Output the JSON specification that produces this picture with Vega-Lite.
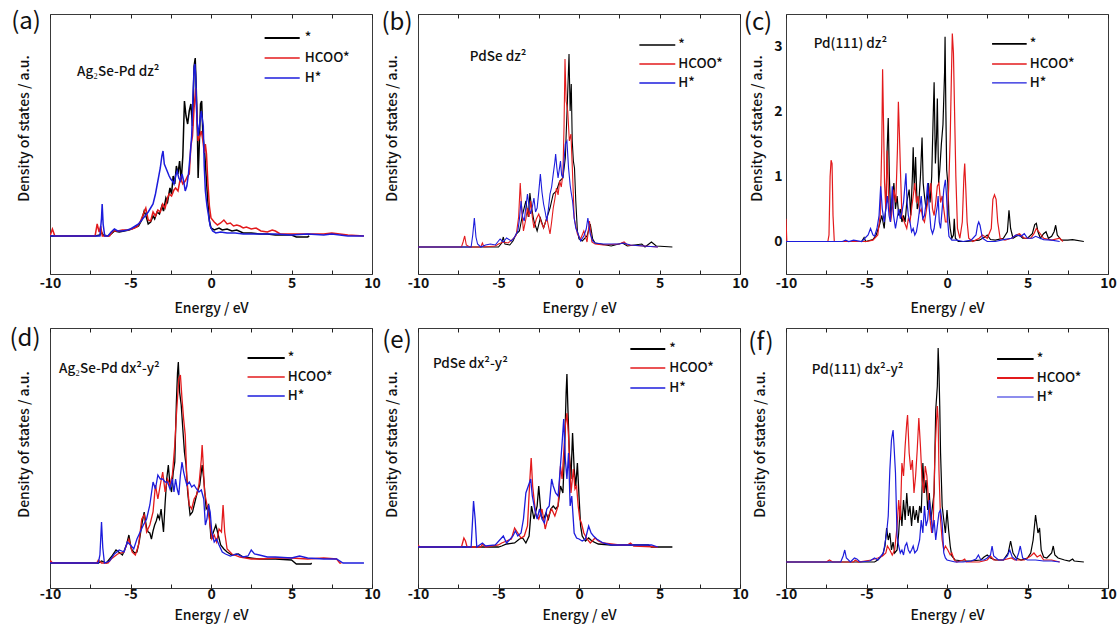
{
  "$schema": "https://vega.github.io/schema/vega-lite/v6.json",
  "padding": {"left": 8, "top": 9, "right": 0, "bottom": 4},
  "background": "white",
  "datasets": {
    "a": [
      {"s":"*","e":-10,"v":0},{"s":"*","e":-7.2,"v":0},{"s":"*","e":-6.9,"v":1},{"s":"*","e":-6.8,"v":4},{"s":"*","e":-6.7,"v":1},{"s":"*","e":-6.4,"v":0},{"s":"*","e":-6.2,"v":2},{"s":"*","e":-6.0,"v":5},{"s":"*","e":-5.7,"v":4},{"s":"*","e":-5.4,"v":5},{"s":"*","e":-5.1,"v":6},{"s":"*","e":-4.8,"v":8},{"s":"*","e":-4.5,"v":10},{"s":"*","e":-4.3,"v":16},{"s":"*","e":-4.15,"v":25},{"s":"*","e":-4.0,"v":18},{"s":"*","e":-3.9,"v":12},{"s":"*","e":-3.75,"v":14},{"s":"*","e":-3.6,"v":20},{"s":"*","e":-3.5,"v":17},{"s":"*","e":-3.35,"v":24},{"s":"*","e":-3.2,"v":22},{"s":"*","e":-3.05,"v":30},{"s":"*","e":-2.95,"v":25},{"s":"*","e":-2.8,"v":38},{"s":"*","e":-2.7,"v":34},{"s":"*","e":-2.55,"v":48},{"s":"*","e":-2.45,"v":42},{"s":"*","e":-2.35,"v":60},{"s":"*","e":-2.25,"v":52},{"s":"*","e":-2.15,"v":70},{"s":"*","e":-2.05,"v":62},{"s":"*","e":-1.95,"v":75},{"s":"*","e":-1.85,"v":55},{"s":"*","e":-1.75,"v":80},{"s":"*","e":-1.65,"v":135},{"s":"*","e":-1.55,"v":120},{"s":"*","e":-1.45,"v":112},{"s":"*","e":-1.35,"v":125},{"s":"*","e":-1.25,"v":132},{"s":"*","e":-1.15,"v":110},{"s":"*","e":-1.05,"v":170},{"s":"*","e":-0.98,"v":178},{"s":"*","e":-0.92,"v":150},{"s":"*","e":-0.85,"v":110},{"s":"*","e":-0.8,"v":58},{"s":"*","e":-0.72,"v":95},{"s":"*","e":-0.65,"v":132},{"s":"*","e":-0.58,"v":135},{"s":"*","e":-0.5,"v":100},{"s":"*","e":-0.4,"v":85},{"s":"*","e":-0.3,"v":60},{"s":"*","e":-0.2,"v":35},{"s":"*","e":-0.1,"v":15},{"s":"*","e":0,"v":8},{"s":"*","e":0.2,"v":6},{"s":"*","e":0.5,"v":8},{"s":"*","e":0.7,"v":6},{"s":"*","e":1.0,"v":7},{"s":"*","e":1.3,"v":5},{"s":"*","e":1.6,"v":6},{"s":"*","e":2.0,"v":3},{"s":"*","e":2.5,"v":3},{"s":"*","e":3,"v":2},{"s":"*","e":3.5,"v":2},{"s":"*","e":4,"v":1},{"s":"*","e":4.5,"v":1},{"s":"*","e":5,"v":1},{"s":"*","e":5.3,"v":-1},{"s":"*","e":6.0,"v":-1},{"s":"*","e":6.1,"v":0},
      {"s":"HCOO*","e":-10,"v":0},{"s":"HCOO*","e":-9.85,"v":7},{"s":"HCOO*","e":-9.7,"v":0},{"s":"HCOO*","e":-7.2,"v":0},{"s":"HCOO*","e":-7.07,"v":12},{"s":"HCOO*","e":-6.95,"v":4},{"s":"HCOO*","e":-6.85,"v":10},{"s":"HCOO*","e":-6.75,"v":0},{"s":"HCOO*","e":-6.3,"v":0},{"s":"HCOO*","e":-6.1,"v":5},{"s":"HCOO*","e":-5.8,"v":5},{"s":"HCOO*","e":-5.5,"v":6},{"s":"HCOO*","e":-5.2,"v":6},{"s":"HCOO*","e":-4.9,"v":7},{"s":"HCOO*","e":-4.6,"v":9},{"s":"HCOO*","e":-4.4,"v":14},{"s":"HCOO*","e":-4.2,"v":22},{"s":"HCOO*","e":-4.05,"v":28},{"s":"HCOO*","e":-3.9,"v":16},{"s":"HCOO*","e":-3.75,"v":15},{"s":"HCOO*","e":-3.6,"v":24},{"s":"HCOO*","e":-3.45,"v":20},{"s":"HCOO*","e":-3.3,"v":26},{"s":"HCOO*","e":-3.15,"v":24},{"s":"HCOO*","e":-3.0,"v":32},{"s":"HCOO*","e":-2.85,"v":28},{"s":"HCOO*","e":-2.7,"v":38},{"s":"HCOO*","e":-2.6,"v":42},{"s":"HCOO*","e":-2.45,"v":40},{"s":"HCOO*","e":-2.3,"v":46},{"s":"HCOO*","e":-2.2,"v":48},{"s":"HCOO*","e":-2.05,"v":45},{"s":"HCOO*","e":-1.9,"v":58},{"s":"HCOO*","e":-1.75,"v":52},{"s":"HCOO*","e":-1.6,"v":55},{"s":"HCOO*","e":-1.45,"v":60},{"s":"HCOO*","e":-1.35,"v":62},{"s":"HCOO*","e":-1.25,"v":90},{"s":"HCOO*","e":-1.15,"v":100},{"s":"HCOO*","e":-1.05,"v":128},{"s":"HCOO*","e":-0.95,"v":148},{"s":"HCOO*","e":-0.88,"v":120},{"s":"HCOO*","e":-0.8,"v":95},{"s":"HCOO*","e":-0.7,"v":100},{"s":"HCOO*","e":-0.6,"v":105},{"s":"HCOO*","e":-0.5,"v":95},{"s":"HCOO*","e":-0.42,"v":83},{"s":"HCOO*","e":-0.35,"v":92},{"s":"HCOO*","e":-0.28,"v":82},{"s":"HCOO*","e":-0.2,"v":55},{"s":"HCOO*","e":-0.1,"v":30},{"s":"HCOO*","e":0,"v":18},{"s":"HCOO*","e":0.2,"v":14},{"s":"HCOO*","e":0.4,"v":11},{"s":"HCOO*","e":0.6,"v":13},{"s":"HCOO*","e":0.8,"v":16},{"s":"HCOO*","e":1.0,"v":12},{"s":"HCOO*","e":1.2,"v":13},{"s":"HCOO*","e":1.4,"v":10},{"s":"HCOO*","e":1.6,"v":11},{"s":"HCOO*","e":1.8,"v":10},{"s":"HCOO*","e":2.0,"v":8},{"s":"HCOO*","e":2.2,"v":9},{"s":"HCOO*","e":2.5,"v":7},{"s":"HCOO*","e":2.8,"v":8},{"s":"HCOO*","e":3.1,"v":5},{"s":"HCOO*","e":3.5,"v":4},{"s":"HCOO*","e":3.8,"v":6},{"s":"HCOO*","e":4.0,"v":5},{"s":"HCOO*","e":4.3,"v":2},{"s":"HCOO*","e":5,"v":2},{"s":"HCOO*","e":6,"v":2},{"s":"HCOO*","e":7,"v":2},{"s":"HCOO*","e":7.5,"v":3},{"s":"HCOO*","e":8,"v":2},{"s":"HCOO*","e":8.5,"v":1},{"s":"HCOO*","e":9.5,"v":0},
      {"s":"H*","e":-10,"v":0},{"s":"H*","e":-6.9,"v":0},{"s":"H*","e":-6.8,"v":18},{"s":"H*","e":-6.76,"v":32},{"s":"H*","e":-6.7,"v":12},{"s":"H*","e":-6.6,"v":0},{"s":"H*","e":-6.4,"v":0},{"s":"H*","e":-6.2,"v":4},{"s":"H*","e":-6.0,"v":7},{"s":"H*","e":-5.8,"v":5},{"s":"H*","e":-5.5,"v":5},{"s":"H*","e":-5.2,"v":6},{"s":"H*","e":-5.0,"v":7},{"s":"H*","e":-4.7,"v":10},{"s":"H*","e":-4.5,"v":12},{"s":"H*","e":-4.3,"v":16},{"s":"H*","e":-4.1,"v":20},{"s":"H*","e":-3.9,"v":24},{"s":"H*","e":-3.75,"v":28},{"s":"H*","e":-3.6,"v":32},{"s":"H*","e":-3.45,"v":42},{"s":"H*","e":-3.3,"v":55},{"s":"H*","e":-3.15,"v":68},{"s":"H*","e":-3.05,"v":80},{"s":"H*","e":-2.98,"v":85},{"s":"H*","e":-2.9,"v":72},{"s":"H*","e":-2.8,"v":68},{"s":"H*","e":-2.7,"v":64},{"s":"H*","e":-2.6,"v":60},{"s":"H*","e":-2.5,"v":57},{"s":"H*","e":-2.4,"v":55},{"s":"H*","e":-2.3,"v":52},{"s":"H*","e":-2.2,"v":60},{"s":"H*","e":-2.1,"v":65},{"s":"H*","e":-2.0,"v":58},{"s":"H*","e":-1.9,"v":55},{"s":"H*","e":-1.8,"v":62},{"s":"H*","e":-1.7,"v":55},{"s":"H*","e":-1.6,"v":45},{"s":"H*","e":-1.5,"v":50},{"s":"H*","e":-1.4,"v":62},{"s":"H*","e":-1.3,"v":80},{"s":"H*","e":-1.2,"v":100},{"s":"H*","e":-1.12,"v":140},{"s":"H*","e":-1.05,"v":168},{"s":"H*","e":-1.0,"v":172},{"s":"H*","e":-0.95,"v":160},{"s":"H*","e":-0.88,"v":120},{"s":"H*","e":-0.8,"v":100},{"s":"H*","e":-0.72,"v":110},{"s":"H*","e":-0.65,"v":120},{"s":"H*","e":-0.6,"v":125},{"s":"H*","e":-0.55,"v":118},{"s":"H*","e":-0.48,"v":110},{"s":"H*","e":-0.42,"v":70},{"s":"H*","e":-0.35,"v":45},{"s":"H*","e":-0.25,"v":30},{"s":"H*","e":-0.15,"v":20},{"s":"H*","e":-0.05,"v":10},{"s":"H*","e":0.1,"v":5},{"s":"H*","e":0.3,"v":3},{"s":"H*","e":0.6,"v":4},{"s":"H*","e":1,"v":3},{"s":"H*","e":1.5,"v":3},{"s":"H*","e":2,"v":2},{"s":"H*","e":3,"v":2},{"s":"H*","e":4,"v":2},{"s":"H*","e":5,"v":1},{"s":"H*","e":6,"v":2},{"s":"H*","e":7,"v":1},{"s":"H*","e":7.5,"v":2},{"s":"H*","e":8,"v":1},{"s":"H*","e":8.5,"v":0},{"s":"H*","e":9.5,"v":0}
    ],
    "b": [
      {"s":"*","e":-10,"v":0},{"s":"*","e":-5,"v":0},{"s":"*","e":-4.8,"v":4},{"s":"*","e":-4.7,"v":10},{"s":"*","e":-4.6,"v":3},{"s":"*","e":-4.3,"v":2},{"s":"*","e":-4.1,"v":6},{"s":"*","e":-3.9,"v":13},{"s":"*","e":-3.7,"v":16},{"s":"*","e":-3.5,"v":33},{"s":"*","e":-3.3,"v":46},{"s":"*","e":-3.15,"v":30},{"s":"*","e":-3.05,"v":54},{"s":"*","e":-2.95,"v":40},{"s":"*","e":-2.8,"v":26},{"s":"*","e":-2.6,"v":16},{"s":"*","e":-2.4,"v":29},{"s":"*","e":-2.2,"v":19},{"s":"*","e":-2.0,"v":29},{"s":"*","e":-1.8,"v":39},{"s":"*","e":-1.6,"v":53},{"s":"*","e":-1.4,"v":56},{"s":"*","e":-1.2,"v":66},{"s":"*","e":-1.0,"v":69},{"s":"*","e":-0.85,"v":89},{"s":"*","e":-0.72,"v":146},{"s":"*","e":-0.62,"v":193},{"s":"*","e":-0.55,"v":136},{"s":"*","e":-0.48,"v":163},{"s":"*","e":-0.42,"v":106},{"s":"*","e":-0.35,"v":86},{"s":"*","e":-0.28,"v":79},{"s":"*","e":-0.2,"v":46},{"s":"*","e":-0.1,"v":16},{"s":"*","e":0,"v":8},{"s":"*","e":0.2,"v":6},{"s":"*","e":0.5,"v":11},{"s":"*","e":0.7,"v":23},{"s":"*","e":0.85,"v":8},{"s":"*","e":1,"v":4},{"s":"*","e":2,"v":1},{"s":"*","e":2.7,"v":4},{"s":"*","e":3,"v":1},{"s":"*","e":3.9,"v":3},{"s":"*","e":4.1,"v":0},{"s":"*","e":4.5,"v":5},{"s":"*","e":4.8,"v":1},{"s":"*","e":5.8,"v":0},
      {"s":"HCOO*","e":-10,"v":0},{"s":"HCOO*","e":-7.3,"v":0},{"s":"HCOO*","e":-7.2,"v":5},{"s":"HCOO*","e":-7.1,"v":11},{"s":"HCOO*","e":-7.0,"v":2},{"s":"HCOO*","e":-6.8,"v":0},{"s":"HCOO*","e":-6.1,"v":0},{"s":"HCOO*","e":-6.0,"v":4},{"s":"HCOO*","e":-5.9,"v":0},{"s":"HCOO*","e":-5.2,"v":1},{"s":"HCOO*","e":-5.0,"v":3},{"s":"HCOO*","e":-4.7,"v":5},{"s":"HCOO*","e":-4.4,"v":4},{"s":"HCOO*","e":-4.1,"v":8},{"s":"HCOO*","e":-3.9,"v":12},{"s":"HCOO*","e":-3.75,"v":30},{"s":"HCOO*","e":-3.65,"v":64},{"s":"HCOO*","e":-3.55,"v":35},{"s":"HCOO*","e":-3.45,"v":16},{"s":"HCOO*","e":-3.3,"v":28},{"s":"HCOO*","e":-3.2,"v":39},{"s":"HCOO*","e":-3.1,"v":30},{"s":"HCOO*","e":-3.0,"v":46},{"s":"HCOO*","e":-2.9,"v":30},{"s":"HCOO*","e":-2.8,"v":19},{"s":"HCOO*","e":-2.65,"v":28},{"s":"HCOO*","e":-2.5,"v":33},{"s":"HCOO*","e":-2.35,"v":25},{"s":"HCOO*","e":-2.2,"v":19},{"s":"HCOO*","e":-2.1,"v":24},{"s":"HCOO*","e":-2.0,"v":29},{"s":"HCOO*","e":-1.8,"v":13},{"s":"HCOO*","e":-1.7,"v":25},{"s":"HCOO*","e":-1.6,"v":39},{"s":"HCOO*","e":-1.5,"v":48},{"s":"HCOO*","e":-1.4,"v":59},{"s":"HCOO*","e":-1.3,"v":52},{"s":"HCOO*","e":-1.2,"v":66},{"s":"HCOO*","e":-1.1,"v":60},{"s":"HCOO*","e":-1.0,"v":73},{"s":"HCOO*","e":-0.93,"v":120},{"s":"HCOO*","e":-0.87,"v":188},{"s":"HCOO*","e":-0.8,"v":146},{"s":"HCOO*","e":-0.7,"v":136},{"s":"HCOO*","e":-0.6,"v":106},{"s":"HCOO*","e":-0.5,"v":113},{"s":"HCOO*","e":-0.4,"v":73},{"s":"HCOO*","e":-0.3,"v":29},{"s":"HCOO*","e":-0.1,"v":13},{"s":"HCOO*","e":0.1,"v":8},{"s":"HCOO*","e":0.3,"v":16},{"s":"HCOO*","e":0.5,"v":5},{"s":"HCOO*","e":0.65,"v":26},{"s":"HCOO*","e":0.8,"v":5},{"s":"HCOO*","e":1,"v":3},{"s":"HCOO*","e":1.5,"v":2},{"s":"HCOO*","e":2.5,"v":3},{"s":"HCOO*","e":2.8,"v":5},{"s":"HCOO*","e":3,"v":2},{"s":"HCOO*","e":4,"v":1},{"s":"HCOO*","e":4.9,"v":0},
      {"s":"H*","e":-10,"v":0},{"s":"H*","e":-6.7,"v":0},{"s":"H*","e":-6.6,"v":12},{"s":"H*","e":-6.5,"v":29},{"s":"H*","e":-6.4,"v":10},{"s":"H*","e":-6.3,"v":3},{"s":"H*","e":-6.1,"v":0},{"s":"H*","e":-5.8,"v":2},{"s":"H*","e":-5.5,"v":3},{"s":"H*","e":-5.2,"v":2},{"s":"H*","e":-4.9,"v":8},{"s":"H*","e":-4.7,"v":5},{"s":"H*","e":-4.5,"v":9},{"s":"H*","e":-4.2,"v":6},{"s":"H*","e":-4.0,"v":10},{"s":"H*","e":-3.8,"v":16},{"s":"H*","e":-3.7,"v":28},{"s":"H*","e":-3.6,"v":46},{"s":"H*","e":-3.5,"v":30},{"s":"H*","e":-3.4,"v":26},{"s":"H*","e":-3.3,"v":40},{"s":"H*","e":-3.2,"v":53},{"s":"H*","e":-3.1,"v":40},{"s":"H*","e":-3.0,"v":33},{"s":"H*","e":-2.9,"v":40},{"s":"H*","e":-2.8,"v":49},{"s":"H*","e":-2.7,"v":35},{"s":"H*","e":-2.6,"v":39},{"s":"H*","e":-2.5,"v":55},{"s":"H*","e":-2.4,"v":73},{"s":"H*","e":-2.3,"v":55},{"s":"H*","e":-2.2,"v":43},{"s":"H*","e":-2.1,"v":35},{"s":"H*","e":-2.0,"v":26},{"s":"H*","e":-1.9,"v":38},{"s":"H*","e":-1.8,"v":53},{"s":"H*","e":-1.7,"v":60},{"s":"H*","e":-1.6,"v":73},{"s":"H*","e":-1.5,"v":85},{"s":"H*","e":-1.45,"v":93},{"s":"H*","e":-1.38,"v":80},{"s":"H*","e":-1.3,"v":69},{"s":"H*","e":-1.22,"v":78},{"s":"H*","e":-1.15,"v":86},{"s":"H*","e":-1.08,"v":72},{"s":"H*","e":-1.0,"v":69},{"s":"H*","e":-0.92,"v":88},{"s":"H*","e":-0.85,"v":103},{"s":"H*","e":-0.75,"v":106},{"s":"H*","e":-0.65,"v":79},{"s":"H*","e":-0.55,"v":62},{"s":"H*","e":-0.5,"v":56},{"s":"H*","e":-0.4,"v":46},{"s":"H*","e":-0.3,"v":29},{"s":"H*","e":-0.2,"v":19},{"s":"H*","e":-0.05,"v":13},{"s":"H*","e":0.1,"v":6},{"s":"H*","e":0.3,"v":11},{"s":"H*","e":0.45,"v":18},{"s":"H*","e":0.55,"v":29},{"s":"H*","e":0.7,"v":13},{"s":"H*","e":0.85,"v":6},{"s":"H*","e":1.0,"v":4},{"s":"H*","e":1.5,"v":3},{"s":"H*","e":2.5,"v":3},{"s":"H*","e":2.75,"v":4},{"s":"H*","e":3.2,"v":2},{"s":"H*","e":4,"v":1},{"s":"H*","e":4.9,"v":0}
    ],
    "c": [
      {"s":"*","e":-10,"v":0},{"s":"*","e":-5.3,"v":0},{"s":"*","e":-5.15,"v":0.06},{"s":"*","e":-5.05,"v":0},{"s":"*","e":-4.6,"v":0.03},{"s":"*","e":-4.4,"v":0.1},{"s":"*","e":-4.2,"v":0.25},{"s":"*","e":-4.05,"v":0.4},{"s":"*","e":-3.9,"v":0.2},{"s":"*","e":-3.78,"v":0.6},{"s":"*","e":-3.72,"v":1.4},{"s":"*","e":-3.65,"v":1.9},{"s":"*","e":-3.58,"v":1.0},{"s":"*","e":-3.5,"v":0.4},{"s":"*","e":-3.4,"v":0.6},{"s":"*","e":-3.3,"v":0.9},{"s":"*","e":-3.2,"v":0.5},{"s":"*","e":-3.1,"v":0.7},{"s":"*","e":-3.0,"v":0.4},{"s":"*","e":-2.9,"v":0.5},{"s":"*","e":-2.8,"v":0.3},{"s":"*","e":-2.7,"v":0.4},{"s":"*","e":-2.6,"v":0.3},{"s":"*","e":-2.5,"v":0.6},{"s":"*","e":-2.35,"v":0.8},{"s":"*","e":-2.25,"v":0.4},{"s":"*","e":-2.15,"v":1.0},{"s":"*","e":-2.1,"v":1.45},{"s":"*","e":-2.03,"v":0.8},{"s":"*","e":-1.95,"v":1.3},{"s":"*","e":-1.85,"v":0.5},{"s":"*","e":-1.75,"v":0.6},{"s":"*","e":-1.65,"v":1.0},{"s":"*","e":-1.55,"v":1.6},{"s":"*","e":-1.48,"v":0.9},{"s":"*","e":-1.4,"v":0.7},{"s":"*","e":-1.3,"v":0.5},{"s":"*","e":-1.2,"v":0.7},{"s":"*","e":-1.15,"v":0.9},{"s":"*","e":-1.05,"v":0.6},{"s":"*","e":-0.95,"v":1.0},{"s":"*","e":-0.87,"v":1.8},{"s":"*","e":-0.8,"v":2.45},{"s":"*","e":-0.72,"v":1.2},{"s":"*","e":-0.65,"v":1.6},{"s":"*","e":-0.6,"v":2.2},{"s":"*","e":-0.52,"v":0.9},{"s":"*","e":-0.45,"v":1.1},{"s":"*","e":-0.35,"v":1.5},{"s":"*","e":-0.25,"v":1.8},{"s":"*","e":-0.2,"v":2.2},{"s":"*","e":-0.15,"v":2.6},{"s":"*","e":-0.12,"v":3.15},{"s":"*","e":-0.07,"v":2.0},{"s":"*","e":-0.02,"v":1.1},{"s":"*","e":0.05,"v":0.9},{"s":"*","e":0.12,"v":0.4},{"s":"*","e":0.2,"v":0.2},{"s":"*","e":0.3,"v":0.05},{"s":"*","e":0.4,"v":0.1},{"s":"*","e":0.45,"v":0.35},{"s":"*","e":0.52,"v":0.05},{"s":"*","e":0.7,"v":0},{"s":"*","e":1.2,"v":0},{"s":"*","e":2.0,"v":0.02},{"s":"*","e":2.3,"v":0.06},{"s":"*","e":2.5,"v":0.1},{"s":"*","e":2.7,"v":0.03},{"s":"*","e":3.0,"v":0.02},{"s":"*","e":3.5,"v":0.05},{"s":"*","e":3.75,"v":0.15},{"s":"*","e":3.85,"v":0.48},{"s":"*","e":3.95,"v":0.2},{"s":"*","e":4.1,"v":0.05},{"s":"*","e":4.3,"v":0.08},{"s":"*","e":4.5,"v":0.1},{"s":"*","e":4.7,"v":0.05},{"s":"*","e":5.0,"v":0.05},{"s":"*","e":5.3,"v":0.12},{"s":"*","e":5.45,"v":0.26},{"s":"*","e":5.55,"v":0.28},{"s":"*","e":5.65,"v":0.15},{"s":"*","e":5.8,"v":0.05},{"s":"*","e":6.0,"v":0.12},{"s":"*","e":6.15,"v":0.15},{"s":"*","e":6.3,"v":0.05},{"s":"*","e":6.5,"v":0.08},{"s":"*","e":6.65,"v":0.15},{"s":"*","e":6.75,"v":0.25},{"s":"*","e":6.85,"v":0.1},{"s":"*","e":7.1,"v":0.02},{"s":"*","e":7.5,"v":0.02},{"s":"*","e":7.8,"v":0.03},{"s":"*","e":8.5,"v":0},
      {"s":"HCOO*","e":-10,"v":0.35},{"s":"HCOO*","e":-9.95,"v":0},{"s":"HCOO*","e":-7.4,"v":0},{"s":"HCOO*","e":-7.33,"v":0.1},{"s":"HCOO*","e":-7.26,"v":1.0},{"s":"HCOO*","e":-7.2,"v":1.25},{"s":"HCOO*","e":-7.14,"v":1.2},{"s":"HCOO*","e":-7.08,"v":0.4},{"s":"HCOO*","e":-7.0,"v":0},{"s":"HCOO*","e":-6.5,"v":0},{"s":"HCOO*","e":-5,"v":0},{"s":"HCOO*","e":-4.6,"v":0.02},{"s":"HCOO*","e":-4.3,"v":0.1},{"s":"HCOO*","e":-4.15,"v":0.4},{"s":"HCOO*","e":-4.05,"v":1.5},{"s":"HCOO*","e":-4.0,"v":2.65},{"s":"HCOO*","e":-3.94,"v":1.8},{"s":"HCOO*","e":-3.88,"v":0.9},{"s":"HCOO*","e":-3.8,"v":0.5},{"s":"HCOO*","e":-3.72,"v":1.4},{"s":"HCOO*","e":-3.62,"v":0.6},{"s":"HCOO*","e":-3.5,"v":0.3},{"s":"HCOO*","e":-3.4,"v":0.5},{"s":"HCOO*","e":-3.3,"v":0.8},{"s":"HCOO*","e":-3.18,"v":0.6},{"s":"HCOO*","e":-3.08,"v":1.4},{"s":"HCOO*","e":-3.02,"v":2.15},{"s":"HCOO*","e":-2.95,"v":1.6},{"s":"HCOO*","e":-2.88,"v":1.0},{"s":"HCOO*","e":-2.8,"v":0.4},{"s":"HCOO*","e":-2.65,"v":0.3},{"s":"HCOO*","e":-2.5,"v":0.2},{"s":"HCOO*","e":-2.4,"v":0.35},{"s":"HCOO*","e":-2.3,"v":0.3},{"s":"HCOO*","e":-2.2,"v":0.5},{"s":"HCOO*","e":-2.1,"v":0.7},{"s":"HCOO*","e":-2.0,"v":0.9},{"s":"HCOO*","e":-1.9,"v":0.6},{"s":"HCOO*","e":-1.8,"v":0.7},{"s":"HCOO*","e":-1.7,"v":0.45},{"s":"HCOO*","e":-1.6,"v":0.5},{"s":"HCOO*","e":-1.5,"v":0.35},{"s":"HCOO*","e":-1.4,"v":0.3},{"s":"HCOO*","e":-1.3,"v":0.45},{"s":"HCOO*","e":-1.2,"v":0.6},{"s":"HCOO*","e":-1.1,"v":0.75},{"s":"HCOO*","e":-1.0,"v":0.9},{"s":"HCOO*","e":-0.9,"v":0.5},{"s":"HCOO*","e":-0.8,"v":0.4},{"s":"HCOO*","e":-0.7,"v":0.6},{"s":"HCOO*","e":-0.6,"v":0.85},{"s":"HCOO*","e":-0.5,"v":0.9},{"s":"HCOO*","e":-0.4,"v":0.6},{"s":"HCOO*","e":-0.3,"v":0.7},{"s":"HCOO*","e":-0.2,"v":0.5},{"s":"HCOO*","e":-0.1,"v":0.3},{"s":"HCOO*","e":0.0,"v":0.3},{"s":"HCOO*","e":0.1,"v":0.8},{"s":"HCOO*","e":0.2,"v":1.6},{"s":"HCOO*","e":0.27,"v":2.5},{"s":"HCOO*","e":0.33,"v":3.2},{"s":"HCOO*","e":0.4,"v":2.9},{"s":"HCOO*","e":0.47,"v":2.0},{"s":"HCOO*","e":0.55,"v":1.0},{"s":"HCOO*","e":0.65,"v":0.2},{"s":"HCOO*","e":0.8,"v":0.05},{"s":"HCOO*","e":0.95,"v":0.3},{"s":"HCOO*","e":1.05,"v":1.0},{"s":"HCOO*","e":1.1,"v":1.2},{"s":"HCOO*","e":1.17,"v":0.8},{"s":"HCOO*","e":1.25,"v":0.3},{"s":"HCOO*","e":1.35,"v":0.05},{"s":"HCOO*","e":1.6,"v":0},{"s":"HCOO*","e":2.0,"v":0.05},{"s":"HCOO*","e":2.2,"v":0.1},{"s":"HCOO*","e":2.5,"v":0.05},{"s":"HCOO*","e":2.75,"v":0.2},{"s":"HCOO*","e":2.85,"v":0.65},{"s":"HCOO*","e":2.95,"v":0.72},{"s":"HCOO*","e":3.05,"v":0.65},{"s":"HCOO*","e":3.15,"v":0.3},{"s":"HCOO*","e":3.3,"v":0.05},{"s":"HCOO*","e":3.6,"v":0.02},{"s":"HCOO*","e":4.0,"v":0.05},{"s":"HCOO*","e":4.3,"v":0.1},{"s":"HCOO*","e":4.5,"v":0.12},{"s":"HCOO*","e":4.8,"v":0.05},{"s":"HCOO*","e":5.2,"v":0.05},{"s":"HCOO*","e":5.4,"v":0.12},{"s":"HCOO*","e":5.55,"v":0.2},{"s":"HCOO*","e":5.7,"v":0.15},{"s":"HCOO*","e":6.0,"v":0.05},{"s":"HCOO*","e":6.5,"v":0.02},{"s":"HCOO*","e":7.0,"v":0.05},{"s":"HCOO*","e":7.2,"v":0},
      {"s":"H*","e":-10,"v":0},{"s":"H*","e":-6.5,"v":0},{"s":"H*","e":-6.3,"v":0.02},{"s":"H*","e":-6.1,"v":0},{"s":"H*","e":-5.8,"v":0.02},{"s":"H*","e":-5.3,"v":0},{"s":"H*","e":-4.9,"v":0.1},{"s":"H*","e":-4.75,"v":0.2},{"s":"H*","e":-4.6,"v":0.1},{"s":"H*","e":-4.5,"v":0.08},{"s":"H*","e":-4.35,"v":0.2},{"s":"H*","e":-4.22,"v":0.4},{"s":"H*","e":-4.12,"v":0.85},{"s":"H*","e":-4.02,"v":0.5},{"s":"H*","e":-3.9,"v":0.3},{"s":"H*","e":-3.8,"v":0.5},{"s":"H*","e":-3.7,"v":0.7},{"s":"H*","e":-3.6,"v":0.4},{"s":"H*","e":-3.52,"v":0.3},{"s":"H*","e":-3.45,"v":0.6},{"s":"H*","e":-3.4,"v":0.85},{"s":"H*","e":-3.32,"v":0.4},{"s":"H*","e":-3.2,"v":0.2},{"s":"H*","e":-3.1,"v":0.35},{"s":"H*","e":-3.0,"v":0.5},{"s":"H*","e":-2.9,"v":0.35},{"s":"H*","e":-2.8,"v":0.45},{"s":"H*","e":-2.7,"v":0.6},{"s":"H*","e":-2.6,"v":0.9},{"s":"H*","e":-2.55,"v":1.05},{"s":"H*","e":-2.48,"v":0.6},{"s":"H*","e":-2.4,"v":0.4},{"s":"H*","e":-2.3,"v":0.3},{"s":"H*","e":-2.2,"v":0.15},{"s":"H*","e":-2.1,"v":0.2},{"s":"H*","e":-2.0,"v":0.1},{"s":"H*","e":-1.9,"v":0.15},{"s":"H*","e":-1.8,"v":0.3},{"s":"H*","e":-1.7,"v":0.5},{"s":"H*","e":-1.6,"v":0.7},{"s":"H*","e":-1.5,"v":0.35},{"s":"H*","e":-1.4,"v":0.4},{"s":"H*","e":-1.3,"v":0.6},{"s":"H*","e":-1.2,"v":0.9},{"s":"H*","e":-1.1,"v":0.5},{"s":"H*","e":-1.0,"v":0.2},{"s":"H*","e":-0.9,"v":0.12},{"s":"H*","e":-0.8,"v":0.2},{"s":"H*","e":-0.7,"v":0.4},{"s":"H*","e":-0.6,"v":0.55},{"s":"H*","e":-0.55,"v":0.7},{"s":"H*","e":-0.48,"v":0.3},{"s":"H*","e":-0.4,"v":0.2},{"s":"H*","e":-0.3,"v":0.5},{"s":"H*","e":-0.2,"v":0.8},{"s":"H*","e":-0.1,"v":0.95},{"s":"H*","e":-0.03,"v":0.7},{"s":"H*","e":0.05,"v":0.3},{"s":"H*","e":0.12,"v":0.08},{"s":"H*","e":0.3,"v":0.02},{"s":"H*","e":0.6,"v":0.02},{"s":"H*","e":1.0,"v":0},{"s":"H*","e":1.5,"v":0.02},{"s":"H*","e":1.8,"v":0.1},{"s":"H*","e":1.9,"v":0.25},{"s":"H*","e":1.97,"v":0.3},{"s":"H*","e":2.05,"v":0.25},{"s":"H*","e":2.2,"v":0.05},{"s":"H*","e":2.5,"v":0},{"s":"H*","e":3.0,"v":0},{"s":"H*","e":3.5,"v":0.03},{"s":"H*","e":4.0,"v":0.05},{"s":"H*","e":4.3,"v":0.1},{"s":"H*","e":4.6,"v":0.08},{"s":"H*","e":4.8,"v":0.12},{"s":"H*","e":5.0,"v":0.05},{"s":"H*","e":5.3,"v":0.05},{"s":"H*","e":5.5,"v":0.08},{"s":"H*","e":6.0,"v":0.03},{"s":"H*","e":6.5,"v":0.02},{"s":"H*","e":7.0,"v":0}
    ],
    "d": [
      {"s":"*","e":-10,"v":0},{"s":"*","e":-7,"v":0},{"s":"*","e":-6.8,"v":2},{"s":"*","e":-6.5,"v":0},{"s":"*","e":-6.2,"v":6},{"s":"*","e":-5.9,"v":13},{"s":"*","e":-5.5,"v":8},{"s":"*","e":-5.25,"v":18},{"s":"*","e":-5.1,"v":28},{"s":"*","e":-4.95,"v":14},{"s":"*","e":-4.75,"v":10},{"s":"*","e":-4.6,"v":11},{"s":"*","e":-4.45,"v":22},{"s":"*","e":-4.3,"v":38},{"s":"*","e":-4.15,"v":51},{"s":"*","e":-4.0,"v":35},{"s":"*","e":-3.9,"v":31},{"s":"*","e":-3.8,"v":30},{"s":"*","e":-3.7,"v":24},{"s":"*","e":-3.6,"v":32},{"s":"*","e":-3.5,"v":38},{"s":"*","e":-3.4,"v":42},{"s":"*","e":-3.3,"v":48},{"s":"*","e":-3.2,"v":44},{"s":"*","e":-3.1,"v":54},{"s":"*","e":-2.95,"v":31},{"s":"*","e":-2.85,"v":60},{"s":"*","e":-2.75,"v":84},{"s":"*","e":-2.65,"v":98},{"s":"*","e":-2.55,"v":78},{"s":"*","e":-2.45,"v":71},{"s":"*","e":-2.35,"v":90},{"s":"*","e":-2.25,"v":101},{"s":"*","e":-2.15,"v":161},{"s":"*","e":-2.08,"v":190},{"s":"*","e":-2.03,"v":201},{"s":"*","e":-1.95,"v":171},{"s":"*","e":-1.85,"v":158},{"s":"*","e":-1.75,"v":134},{"s":"*","e":-1.65,"v":111},{"s":"*","e":-1.55,"v":98},{"s":"*","e":-1.45,"v":71},{"s":"*","e":-1.3,"v":48},{"s":"*","e":-1.15,"v":51},{"s":"*","e":-1.0,"v":61},{"s":"*","e":-0.85,"v":71},{"s":"*","e":-0.7,"v":78},{"s":"*","e":-0.55,"v":98},{"s":"*","e":-0.45,"v":84},{"s":"*","e":-0.3,"v":54},{"s":"*","e":-0.15,"v":58},{"s":"*","e":0,"v":24},{"s":"*","e":0.15,"v":31},{"s":"*","e":0.3,"v":38},{"s":"*","e":0.45,"v":28},{"s":"*","e":0.6,"v":18},{"s":"*","e":0.8,"v":14},{"s":"*","e":1.0,"v":11},{"s":"*","e":1.3,"v":8},{"s":"*","e":1.7,"v":9},{"s":"*","e":2.0,"v":6},{"s":"*","e":3,"v":4},{"s":"*","e":4,"v":4},{"s":"*","e":5,"v":3},{"s":"*","e":5.3,"v":-1},{"s":"*","e":6.2,"v":-1},{"s":"*","e":6.25,"v":0},
      {"s":"HCOO*","e":-10,"v":0},{"s":"HCOO*","e":-9.95,"v":2},{"s":"HCOO*","e":-9.85,"v":0},{"s":"HCOO*","e":-7.1,"v":0},{"s":"HCOO*","e":-7.0,"v":3},{"s":"HCOO*","e":-6.8,"v":0},{"s":"HCOO*","e":-6.4,"v":0},{"s":"HCOO*","e":-6.2,"v":4},{"s":"HCOO*","e":-5.8,"v":9},{"s":"HCOO*","e":-5.4,"v":11},{"s":"HCOO*","e":-5.25,"v":18},{"s":"HCOO*","e":-5.1,"v":24},{"s":"HCOO*","e":-4.9,"v":11},{"s":"HCOO*","e":-4.7,"v":8},{"s":"HCOO*","e":-4.5,"v":18},{"s":"HCOO*","e":-4.3,"v":44},{"s":"HCOO*","e":-4.15,"v":48},{"s":"HCOO*","e":-4.0,"v":31},{"s":"HCOO*","e":-3.8,"v":38},{"s":"HCOO*","e":-3.6,"v":51},{"s":"HCOO*","e":-3.45,"v":78},{"s":"HCOO*","e":-3.3,"v":64},{"s":"HCOO*","e":-3.15,"v":78},{"s":"HCOO*","e":-3.0,"v":91},{"s":"HCOO*","e":-2.85,"v":71},{"s":"HCOO*","e":-2.7,"v":84},{"s":"HCOO*","e":-2.55,"v":78},{"s":"HCOO*","e":-2.4,"v":88},{"s":"HCOO*","e":-2.25,"v":118},{"s":"HCOO*","e":-2.15,"v":148},{"s":"HCOO*","e":-2.0,"v":184},{"s":"HCOO*","e":-1.9,"v":188},{"s":"HCOO*","e":-1.8,"v":164},{"s":"HCOO*","e":-1.7,"v":144},{"s":"HCOO*","e":-1.6,"v":128},{"s":"HCOO*","e":-1.5,"v":84},{"s":"HCOO*","e":-1.35,"v":58},{"s":"HCOO*","e":-1.2,"v":54},{"s":"HCOO*","e":-1.05,"v":64},{"s":"HCOO*","e":-0.9,"v":68},{"s":"HCOO*","e":-0.75,"v":78},{"s":"HCOO*","e":-0.6,"v":104},{"s":"HCOO*","e":-0.55,"v":118},{"s":"HCOO*","e":-0.5,"v":104},{"s":"HCOO*","e":-0.4,"v":71},{"s":"HCOO*","e":-0.25,"v":58},{"s":"HCOO*","e":-0.1,"v":44},{"s":"HCOO*","e":0.05,"v":24},{"s":"HCOO*","e":0.2,"v":28},{"s":"HCOO*","e":0.35,"v":21},{"s":"HCOO*","e":0.5,"v":34},{"s":"HCOO*","e":0.65,"v":31},{"s":"HCOO*","e":0.75,"v":58},{"s":"HCOO*","e":0.85,"v":31},{"s":"HCOO*","e":1.0,"v":14},{"s":"HCOO*","e":1.3,"v":9},{"s":"HCOO*","e":1.8,"v":6},{"s":"HCOO*","e":2.5,"v":4},{"s":"HCOO*","e":3,"v":4},{"s":"HCOO*","e":4,"v":5},{"s":"HCOO*","e":5,"v":5},{"s":"HCOO*","e":6,"v":4},{"s":"HCOO*","e":7,"v":5},{"s":"HCOO*","e":7.8,"v":4},{"s":"HCOO*","e":8.0,"v":0},{"s":"HCOO*","e":8.1,"v":0},
      {"s":"H*","e":-10,"v":0},{"s":"H*","e":-7,"v":0},{"s":"H*","e":-6.9,"v":8},{"s":"H*","e":-6.85,"v":24},{"s":"H*","e":-6.8,"v":41},{"s":"H*","e":-6.72,"v":15},{"s":"H*","e":-6.62,"v":0},{"s":"H*","e":-6.3,"v":2},{"s":"H*","e":-6.0,"v":9},{"s":"H*","e":-5.7,"v":13},{"s":"H*","e":-5.4,"v":11},{"s":"H*","e":-5.2,"v":21},{"s":"H*","e":-5.0,"v":18},{"s":"H*","e":-4.8,"v":14},{"s":"H*","e":-4.6,"v":24},{"s":"H*","e":-4.4,"v":31},{"s":"H*","e":-4.2,"v":38},{"s":"H*","e":-4.0,"v":44},{"s":"H*","e":-3.8,"v":58},{"s":"H*","e":-3.6,"v":81},{"s":"H*","e":-3.45,"v":74},{"s":"H*","e":-3.3,"v":88},{"s":"H*","e":-3.15,"v":84},{"s":"H*","e":-3.0,"v":84},{"s":"H*","e":-2.85,"v":81},{"s":"H*","e":-2.7,"v":81},{"s":"H*","e":-2.55,"v":74},{"s":"H*","e":-2.4,"v":84},{"s":"H*","e":-2.3,"v":71},{"s":"H*","e":-2.2,"v":84},{"s":"H*","e":-2.1,"v":74},{"s":"H*","e":-2.0,"v":68},{"s":"H*","e":-1.9,"v":88},{"s":"H*","e":-1.8,"v":101},{"s":"H*","e":-1.7,"v":91},{"s":"H*","e":-1.6,"v":84},{"s":"H*","e":-1.5,"v":78},{"s":"H*","e":-1.35,"v":81},{"s":"H*","e":-1.2,"v":76},{"s":"H*","e":-1.05,"v":78},{"s":"H*","e":-0.9,"v":74},{"s":"H*","e":-0.75,"v":71},{"s":"H*","e":-0.6,"v":73},{"s":"H*","e":-0.45,"v":64},{"s":"H*","e":-0.35,"v":38},{"s":"H*","e":-0.25,"v":44},{"s":"H*","e":-0.15,"v":58},{"s":"H*","e":-0.05,"v":51},{"s":"H*","e":0.05,"v":31},{"s":"H*","e":0.2,"v":21},{"s":"H*","e":0.35,"v":24},{"s":"H*","e":0.5,"v":18},{"s":"H*","e":0.7,"v":11},{"s":"H*","e":0.9,"v":9},{"s":"H*","e":1.2,"v":7},{"s":"H*","e":1.6,"v":9},{"s":"H*","e":2.0,"v":6},{"s":"H*","e":2.3,"v":7},{"s":"H*","e":2.5,"v":13},{"s":"H*","e":2.7,"v":9},{"s":"H*","e":3.0,"v":8},{"s":"H*","e":3.5,"v":6},{"s":"H*","e":4.0,"v":6},{"s":"H*","e":5.0,"v":5},{"s":"H*","e":5.5,"v":7},{"s":"H*","e":6.0,"v":5},{"s":"H*","e":7.0,"v":4},{"s":"H*","e":7.5,"v":4},{"s":"H*","e":7.8,"v":4},{"s":"H*","e":8.2,"v":0},{"s":"H*","e":9.5,"v":0}
    ],
    "e": [
      {"s":"*","e":-10,"v":0},{"s":"*","e":-5,"v":0},{"s":"*","e":-4.8,"v":1},{"s":"*","e":-4.5,"v":3},{"s":"*","e":-4.0,"v":4},{"s":"*","e":-3.7,"v":8},{"s":"*","e":-3.5,"v":9},{"s":"*","e":-3.3,"v":4},{"s":"*","e":-3.1,"v":11},{"s":"*","e":-2.95,"v":41},{"s":"*","e":-2.8,"v":28},{"s":"*","e":-2.6,"v":41},{"s":"*","e":-2.5,"v":61},{"s":"*","e":-2.35,"v":31},{"s":"*","e":-2.2,"v":28},{"s":"*","e":-2.05,"v":34},{"s":"*","e":-1.9,"v":28},{"s":"*","e":-1.75,"v":38},{"s":"*","e":-1.6,"v":41},{"s":"*","e":-1.45,"v":38},{"s":"*","e":-1.3,"v":41},{"s":"*","e":-1.15,"v":61},{"s":"*","e":-1.0,"v":54},{"s":"*","e":-0.9,"v":94},{"s":"*","e":-0.8,"v":154},{"s":"*","e":-0.75,"v":173},{"s":"*","e":-0.7,"v":144},{"s":"*","e":-0.6,"v":94},{"s":"*","e":-0.5,"v":68},{"s":"*","e":-0.4,"v":114},{"s":"*","e":-0.3,"v":78},{"s":"*","e":-0.2,"v":61},{"s":"*","e":-0.1,"v":84},{"s":"*","e":0,"v":51},{"s":"*","e":0.1,"v":21},{"s":"*","e":0.2,"v":11},{"s":"*","e":0.4,"v":6},{"s":"*","e":0.6,"v":9},{"s":"*","e":0.8,"v":6},{"s":"*","e":1.2,"v":3},{"s":"*","e":2,"v":2},{"s":"*","e":3,"v":2},{"s":"*","e":4.3,"v":2},{"s":"*","e":4.5,"v":0},{"s":"*","e":5.8,"v":0},
      {"s":"HCOO*","e":-10,"v":2},{"s":"HCOO*","e":-9.9,"v":0},{"s":"HCOO*","e":-7.3,"v":0},{"s":"HCOO*","e":-7.15,"v":9},{"s":"HCOO*","e":-7.05,"v":6},{"s":"HCOO*","e":-6.95,"v":0},{"s":"HCOO*","e":-6.1,"v":0},{"s":"HCOO*","e":-6.0,"v":3},{"s":"HCOO*","e":-5.8,"v":0},{"s":"HCOO*","e":-5,"v":2},{"s":"HCOO*","e":-4.8,"v":4},{"s":"HCOO*","e":-4.5,"v":6},{"s":"HCOO*","e":-4.2,"v":8},{"s":"HCOO*","e":-4.0,"v":19},{"s":"HCOO*","e":-3.8,"v":14},{"s":"HCOO*","e":-3.6,"v":9},{"s":"HCOO*","e":-3.4,"v":11},{"s":"HCOO*","e":-3.2,"v":21},{"s":"HCOO*","e":-3.05,"v":68},{"s":"HCOO*","e":-2.97,"v":89},{"s":"HCOO*","e":-2.88,"v":61},{"s":"HCOO*","e":-2.7,"v":34},{"s":"HCOO*","e":-2.5,"v":28},{"s":"HCOO*","e":-2.3,"v":38},{"s":"HCOO*","e":-2.1,"v":18},{"s":"HCOO*","e":-1.9,"v":31},{"s":"HCOO*","e":-1.7,"v":38},{"s":"HCOO*","e":-1.5,"v":31},{"s":"HCOO*","e":-1.3,"v":41},{"s":"HCOO*","e":-1.15,"v":81},{"s":"HCOO*","e":-1.05,"v":68},{"s":"HCOO*","e":-0.95,"v":94},{"s":"HCOO*","e":-0.85,"v":121},{"s":"HCOO*","e":-0.75,"v":134},{"s":"HCOO*","e":-0.65,"v":111},{"s":"HCOO*","e":-0.5,"v":54},{"s":"HCOO*","e":-0.35,"v":78},{"s":"HCOO*","e":-0.25,"v":58},{"s":"HCOO*","e":-0.15,"v":61},{"s":"HCOO*","e":-0.05,"v":41},{"s":"HCOO*","e":0.05,"v":28},{"s":"HCOO*","e":0.15,"v":24},{"s":"HCOO*","e":0.3,"v":14},{"s":"HCOO*","e":0.5,"v":8},{"s":"HCOO*","e":0.7,"v":4},{"s":"HCOO*","e":1.0,"v":9},{"s":"HCOO*","e":1.2,"v":6},{"s":"HCOO*","e":1.5,"v":4},{"s":"HCOO*","e":2,"v":3},{"s":"HCOO*","e":2.5,"v":2},{"s":"HCOO*","e":3,"v":2},{"s":"HCOO*","e":3.2,"v":4},{"s":"HCOO*","e":3.4,"v":1},{"s":"HCOO*","e":4.9,"v":0},
      {"s":"H*","e":-10,"v":0},{"s":"H*","e":-6.7,"v":0},{"s":"H*","e":-6.6,"v":30},{"s":"H*","e":-6.55,"v":46},{"s":"H*","e":-6.45,"v":28},{"s":"H*","e":-6.35,"v":0},{"s":"H*","e":-6.0,"v":4},{"s":"H*","e":-5.8,"v":1},{"s":"H*","e":-5.2,"v":2},{"s":"H*","e":-4.7,"v":11},{"s":"H*","e":-4.5,"v":4},{"s":"H*","e":-4.1,"v":11},{"s":"H*","e":-3.95,"v":16},{"s":"H*","e":-3.8,"v":11},{"s":"H*","e":-3.6,"v":14},{"s":"H*","e":-3.45,"v":28},{"s":"H*","e":-3.3,"v":54},{"s":"H*","e":-3.15,"v":61},{"s":"H*","e":-3.0,"v":68},{"s":"H*","e":-2.9,"v":51},{"s":"H*","e":-2.75,"v":38},{"s":"H*","e":-2.6,"v":28},{"s":"H*","e":-2.45,"v":38},{"s":"H*","e":-2.3,"v":28},{"s":"H*","e":-2.15,"v":24},{"s":"H*","e":-2.0,"v":38},{"s":"H*","e":-1.85,"v":41},{"s":"H*","e":-1.7,"v":68},{"s":"H*","e":-1.6,"v":61},{"s":"H*","e":-1.45,"v":54},{"s":"H*","e":-1.3,"v":51},{"s":"H*","e":-1.2,"v":71},{"s":"H*","e":-1.05,"v":104},{"s":"H*","e":-0.95,"v":128},{"s":"H*","e":-0.85,"v":88},{"s":"H*","e":-0.75,"v":68},{"s":"H*","e":-0.65,"v":94},{"s":"H*","e":-0.55,"v":41},{"s":"H*","e":-0.45,"v":51},{"s":"H*","e":-0.3,"v":14},{"s":"H*","e":-0.15,"v":9},{"s":"H*","e":0,"v":8},{"s":"H*","e":0.2,"v":6},{"s":"H*","e":0.4,"v":8},{"s":"H*","e":0.6,"v":21},{"s":"H*","e":0.75,"v":14},{"s":"H*","e":0.9,"v":11},{"s":"H*","e":1.1,"v":8},{"s":"H*","e":1.5,"v":4},{"s":"H*","e":2,"v":2},{"s":"H*","e":3,"v":2},{"s":"H*","e":3.5,"v":2},{"s":"H*","e":4.5,"v":2},{"s":"H*","e":4.9,"v":0}
    ],
    "f": [
      {"s":"*","e":-10,"v":0},{"s":"*","e":-4.5,"v":0},{"s":"*","e":-4.3,"v":2},{"s":"*","e":-4.0,"v":7},{"s":"*","e":-3.85,"v":16},{"s":"*","e":-3.75,"v":34},{"s":"*","e":-3.65,"v":22},{"s":"*","e":-3.55,"v":29},{"s":"*","e":-3.45,"v":12},{"s":"*","e":-3.35,"v":20},{"s":"*","e":-3.25,"v":9},{"s":"*","e":-3.1,"v":12},{"s":"*","e":-3.0,"v":29},{"s":"*","e":-2.9,"v":56},{"s":"*","e":-2.8,"v":36},{"s":"*","e":-2.7,"v":62},{"s":"*","e":-2.6,"v":42},{"s":"*","e":-2.5,"v":69},{"s":"*","e":-2.4,"v":46},{"s":"*","e":-2.3,"v":56},{"s":"*","e":-2.2,"v":36},{"s":"*","e":-2.1,"v":56},{"s":"*","e":-2.0,"v":42},{"s":"*","e":-1.9,"v":52},{"s":"*","e":-1.8,"v":39},{"s":"*","e":-1.7,"v":56},{"s":"*","e":-1.6,"v":49},{"s":"*","e":-1.5,"v":99},{"s":"*","e":-1.4,"v":69},{"s":"*","e":-1.3,"v":82},{"s":"*","e":-1.2,"v":52},{"s":"*","e":-1.1,"v":69},{"s":"*","e":-1.0,"v":42},{"s":"*","e":-0.9,"v":56},{"s":"*","e":-0.8,"v":69},{"s":"*","e":-0.7,"v":152},{"s":"*","e":-0.6,"v":176},{"s":"*","e":-0.55,"v":214},{"s":"*","e":-0.5,"v":192},{"s":"*","e":-0.45,"v":156},{"s":"*","e":-0.4,"v":109},{"s":"*","e":-0.3,"v":56},{"s":"*","e":-0.2,"v":42},{"s":"*","e":-0.1,"v":29},{"s":"*","e":0.0,"v":52},{"s":"*","e":0.1,"v":32},{"s":"*","e":0.2,"v":16},{"s":"*","e":0.3,"v":6},{"s":"*","e":0.5,"v":2},{"s":"*","e":1,"v":1},{"s":"*","e":1.5,"v":1},{"s":"*","e":2.1,"v":2},{"s":"*","e":2.3,"v":5},{"s":"*","e":2.5,"v":7},{"s":"*","e":2.7,"v":4},{"s":"*","e":3.0,"v":2},{"s":"*","e":3.5,"v":2},{"s":"*","e":3.8,"v":9},{"s":"*","e":3.95,"v":21},{"s":"*","e":4.1,"v":9},{"s":"*","e":4.3,"v":4},{"s":"*","e":4.6,"v":2},{"s":"*","e":5.0,"v":4},{"s":"*","e":5.2,"v":9},{"s":"*","e":5.35,"v":22},{"s":"*","e":5.5,"v":47},{"s":"*","e":5.65,"v":29},{"s":"*","e":5.75,"v":34},{"s":"*","e":5.85,"v":12},{"s":"*","e":6.0,"v":5},{"s":"*","e":6.2,"v":4},{"s":"*","e":6.5,"v":9},{"s":"*","e":6.6,"v":16},{"s":"*","e":6.7,"v":7},{"s":"*","e":6.9,"v":4},{"s":"*","e":7.1,"v":3},{"s":"*","e":7.3,"v":2},{"s":"*","e":7.6,"v":1},{"s":"*","e":7.8,"v":3},{"s":"*","e":7.9,"v":1},{"s":"*","e":8.5,"v":0},
      {"s":"HCOO*","e":-10,"v":0},{"s":"HCOO*","e":-7.5,"v":0},{"s":"HCOO*","e":-7.3,"v":2},{"s":"HCOO*","e":-7.1,"v":0},{"s":"HCOO*","e":-5.8,"v":0},{"s":"HCOO*","e":-5.7,"v":2},{"s":"HCOO*","e":-5.5,"v":0},{"s":"HCOO*","e":-4.7,"v":2},{"s":"HCOO*","e":-4.3,"v":4},{"s":"HCOO*","e":-4.0,"v":6},{"s":"HCOO*","e":-3.8,"v":9},{"s":"HCOO*","e":-3.7,"v":16},{"s":"HCOO*","e":-3.55,"v":12},{"s":"HCOO*","e":-3.4,"v":7},{"s":"HCOO*","e":-3.25,"v":12},{"s":"HCOO*","e":-3.1,"v":36},{"s":"HCOO*","e":-3.0,"v":62},{"s":"HCOO*","e":-2.9,"v":42},{"s":"HCOO*","e":-2.8,"v":99},{"s":"HCOO*","e":-2.7,"v":86},{"s":"HCOO*","e":-2.6,"v":116},{"s":"HCOO*","e":-2.5,"v":139},{"s":"HCOO*","e":-2.45,"v":147},{"s":"HCOO*","e":-2.35,"v":109},{"s":"HCOO*","e":-2.25,"v":92},{"s":"HCOO*","e":-2.15,"v":102},{"s":"HCOO*","e":-2.05,"v":69},{"s":"HCOO*","e":-1.95,"v":86},{"s":"HCOO*","e":-1.85,"v":112},{"s":"HCOO*","e":-1.75,"v":144},{"s":"HCOO*","e":-1.65,"v":116},{"s":"HCOO*","e":-1.55,"v":82},{"s":"HCOO*","e":-1.45,"v":69},{"s":"HCOO*","e":-1.35,"v":96},{"s":"HCOO*","e":-1.25,"v":86},{"s":"HCOO*","e":-1.15,"v":62},{"s":"HCOO*","e":-1.05,"v":42},{"s":"HCOO*","e":-0.95,"v":29},{"s":"HCOO*","e":-0.85,"v":42},{"s":"HCOO*","e":-0.75,"v":109},{"s":"HCOO*","e":-0.65,"v":142},{"s":"HCOO*","e":-0.6,"v":156},{"s":"HCOO*","e":-0.55,"v":142},{"s":"HCOO*","e":-0.5,"v":92},{"s":"HCOO*","e":-0.4,"v":42},{"s":"HCOO*","e":-0.3,"v":22},{"s":"HCOO*","e":-0.2,"v":12},{"s":"HCOO*","e":-0.1,"v":16},{"s":"HCOO*","e":0.05,"v":12},{"s":"HCOO*","e":0.2,"v":7},{"s":"HCOO*","e":0.3,"v":9},{"s":"HCOO*","e":0.45,"v":2},{"s":"HCOO*","e":0.6,"v":0},{"s":"HCOO*","e":1.0,"v":2},{"s":"HCOO*","e":1.1,"v":3},{"s":"HCOO*","e":1.2,"v":0},{"s":"HCOO*","e":2,"v":0},{"s":"HCOO*","e":2.5,"v":2},{"s":"HCOO*","e":2.7,"v":6},{"s":"HCOO*","e":2.9,"v":2},{"s":"HCOO*","e":3.5,"v":2},{"s":"HCOO*","e":4.0,"v":4},{"s":"HCOO*","e":4.2,"v":2},{"s":"HCOO*","e":4.8,"v":2},{"s":"HCOO*","e":5.2,"v":6},{"s":"HCOO*","e":5.4,"v":9},{"s":"HCOO*","e":5.6,"v":5},{"s":"HCOO*","e":5.8,"v":7},{"s":"HCOO*","e":6.0,"v":2},{"s":"HCOO*","e":6.5,"v":2},{"s":"HCOO*","e":7.0,"v":0},
      {"s":"H*","e":-10,"v":0},{"s":"H*","e":-6.6,"v":0},{"s":"H*","e":-6.45,"v":6},{"s":"H*","e":-6.35,"v":12},{"s":"H*","e":-6.25,"v":4},{"s":"H*","e":-6.0,"v":0},{"s":"H*","e":-5.75,"v":4},{"s":"H*","e":-5.6,"v":3},{"s":"H*","e":-5.4,"v":0},{"s":"H*","e":-4.8,"v":1},{"s":"H*","e":-4.5,"v":4},{"s":"H*","e":-4.3,"v":2},{"s":"H*","e":-4.1,"v":6},{"s":"H*","e":-3.95,"v":9},{"s":"H*","e":-3.85,"v":19},{"s":"H*","e":-3.75,"v":29},{"s":"H*","e":-3.65,"v":46},{"s":"H*","e":-3.55,"v":92},{"s":"H*","e":-3.45,"v":122},{"s":"H*","e":-3.35,"v":132},{"s":"H*","e":-3.3,"v":119},{"s":"H*","e":-3.2,"v":89},{"s":"H*","e":-3.1,"v":26},{"s":"H*","e":-3.0,"v":16},{"s":"H*","e":-2.9,"v":9},{"s":"H*","e":-2.8,"v":12},{"s":"H*","e":-2.7,"v":7},{"s":"H*","e":-2.6,"v":16},{"s":"H*","e":-2.5,"v":19},{"s":"H*","e":-2.4,"v":12},{"s":"H*","e":-2.3,"v":9},{"s":"H*","e":-2.2,"v":12},{"s":"H*","e":-2.1,"v":16},{"s":"H*","e":-2.0,"v":9},{"s":"H*","e":-1.85,"v":12},{"s":"H*","e":-1.7,"v":22},{"s":"H*","e":-1.6,"v":42},{"s":"H*","e":-1.5,"v":29},{"s":"H*","e":-1.4,"v":56},{"s":"H*","e":-1.3,"v":36},{"s":"H*","e":-1.2,"v":42},{"s":"H*","e":-1.1,"v":62},{"s":"H*","e":-1.0,"v":49},{"s":"H*","e":-0.9,"v":29},{"s":"H*","e":-0.8,"v":42},{"s":"H*","e":-0.7,"v":22},{"s":"H*","e":-0.6,"v":36},{"s":"H*","e":-0.5,"v":49},{"s":"H*","e":-0.4,"v":52},{"s":"H*","e":-0.3,"v":39},{"s":"H*","e":-0.2,"v":9},{"s":"H*","e":-0.1,"v":4},{"s":"H*","e":0,"v":2},{"s":"H*","e":0.5,"v":0},{"s":"H*","e":1,"v":0},{"s":"H*","e":1.5,"v":1},{"s":"H*","e":1.8,"v":3},{"s":"H*","e":1.95,"v":7},{"s":"H*","e":2.1,"v":2},{"s":"H*","e":2.3,"v":2},{"s":"H*","e":2.5,"v":4},{"s":"H*","e":2.7,"v":7},{"s":"H*","e":2.8,"v":16},{"s":"H*","e":2.9,"v":6},{"s":"H*","e":3.2,"v":2},{"s":"H*","e":3.5,"v":2},{"s":"H*","e":3.75,"v":6},{"s":"H*","e":3.9,"v":12},{"s":"H*","e":4.05,"v":5},{"s":"H*","e":4.3,"v":2},{"s":"H*","e":4.45,"v":9},{"s":"H*","e":4.55,"v":16},{"s":"H*","e":4.7,"v":4},{"s":"H*","e":5.0,"v":2},{"s":"H*","e":5.5,"v":2},{"s":"H*","e":6,"v":1},{"s":"H*","e":6.5,"v":1},{"s":"H*","e":7,"v":0}
    ]
  },
  "columns": 3,
  "spacing": {"row": 54, "column": 46},
  "bounds": "flush",
  "concat": [
    {
      "width": 322, "height": 260,
      "layer": [
        {"data": {"name": "a"}, "mark": {"type": "line", "strokeWidth": 1.5, "clip": true},
         "encoding": {
           "x": {"field": "e", "type": "quantitative", "scale": {"domain": [-10, 10], "nice": false}, "axis": {"orient": "bottom", "values": [-10,-7.5,-5,-2.5,0,2.5,5,7.5,10], "labelExpr": "datum.value % 5 === 0 ? toString(datum.value) : ''", "labelFlush": false, "tickSize": -4, "labelPadding": 6, "title": "Energy / eV", "titlePadding": 11}},
           "y": {"field": "v", "type": "quantitative", "scale": {"domain": [-38, 222], "nice": false, "zero": false}, "axis": {"orient": "left", "labels": false, "ticks": false, "title": "Density of states / a.u.", "titlePadding": 19, "titleY": 114}},
           "color": {"field": "s", "type": "nominal", "scale": {"domain": ["*", "HCOO*", "H*"], "range": ["#000000", "#e31a1c", "#1c1cdc"]}, "legend": null}}},
        {"data": {"values": [{}]}, "mark": {"type": "text", "text": "Ag₂Se-Pd dz²", "align": "left", "baseline": "middle", "fontSize": 13.5, "fontWeight": 500},
         "encoding": {"x": {"datum": -8.32, "axis": {"orient": "top", "values": [-10,-7.5,-5,-2.5,0,2.5,5,7.5,10], "labels": false, "title": null, "tickSize": -4}}, "y": {"datum": 164}}},
        {"data": {"values": [{}]}, "mark": {"type": "text", "text": "(a)", "align": "center", "baseline": "middle", "fontSize": 24, "dx": -24, "dy": 8},
         "encoding": {"x": {"datum": -10, "axis": null}, "y": {"datum": 222}}},
        {"data": {"values": [{"s": "*"}]}, "layer": [
          {"mark": {"type": "rule", "strokeWidth": 2.2}, "encoding": {"x": {"datum": 3.33, "axis": null}, "x2": {"datum": 5.51}, "y": {"datum": 198}, "color": {"field": "s", "type": "nominal", "legend": null}}},
          {"mark": {"type": "text", "align": "left", "baseline": "middle", "fontSize": 13.5, "fontWeight": 500}, "encoding": {"x": {"datum": 5.83, "axis": null}, "y": {"datum": 198}, "text": {"field": "s"}}}]},
        {"data": {"values": [{"s": "HCOO*"}]}, "layer": [
          {"mark": {"type": "rule", "strokeWidth": 1.6}, "encoding": {"x": {"datum": 3.33, "axis": null}, "x2": {"datum": 5.51}, "y": {"datum": 178}, "color": {"field": "s", "type": "nominal", "legend": null}}},
          {"mark": {"type": "text", "align": "left", "baseline": "middle", "fontSize": 13.5, "fontWeight": 500}, "encoding": {"x": {"datum": 5.83, "axis": null}, "y": {"datum": 178}, "text": {"field": "s"}}}]},
        {"data": {"values": [{"s": "H*"}]}, "layer": [
          {"mark": {"type": "rule", "strokeWidth": 1.6}, "encoding": {"x": {"datum": 3.33, "axis": null}, "x2": {"datum": 5.51}, "y": {"datum": 158}, "color": {"field": "s", "type": "nominal", "legend": null}}},
          {"mark": {"type": "text", "align": "left", "baseline": "middle", "fontSize": 13.5, "fontWeight": 500}, "encoding": {"x": {"datum": 5.83, "axis": null}, "y": {"datum": 158}, "text": {"field": "s"}}}]}
      ]
    },
    {
      "width": 322, "height": 260,
      "layer": [
        {"data": {"name": "b"}, "mark": {"type": "line", "strokeWidth": 1.1, "clip": true},
         "encoding": {
           "x": {"field": "e", "type": "quantitative", "scale": {"domain": [-10, 10], "nice": false}, "axis": {"orient": "bottom", "values": [-10,-7.5,-5,-2.5,0,2.5,5,7.5,10], "labelExpr": "datum.value % 5 === 0 ? toString(datum.value) : ''", "labelFlush": false, "tickSize": -4, "labelPadding": 6, "title": "Energy / eV", "titlePadding": 11}},
           "y": {"field": "v", "type": "quantitative", "scale": {"domain": [-27, 233], "nice": false, "zero": false}, "axis": {"orient": "left", "labels": false, "ticks": false, "title": "Density of states / a.u.", "titlePadding": 19, "titleY": 114}},
           "color": {"field": "s", "type": "nominal", "scale": {"domain": ["*", "HCOO*", "H*"], "range": ["#000000", "#e31a1c", "#1c1cdc"]}, "legend": null}}},
        {"data": {"values": [{}]}, "mark": {"type": "text", "text": "PdSe dz²", "align": "left", "baseline": "middle", "fontSize": 13.5, "fontWeight": 500},
         "encoding": {"x": {"datum": -6.78, "axis": {"orient": "top", "values": [-10,-7.5,-5,-2.5,0,2.5,5,7.5,10], "labels": false, "title": null, "tickSize": -4}}, "y": {"datum": 190}}},
        {"data": {"values": [{}]}, "mark": {"type": "text", "text": "(b)", "align": "center", "baseline": "middle", "fontSize": 24, "dx": -21, "dy": 9},
         "encoding": {"x": {"datum": -10, "axis": null}, "y": {"datum": 233}}},
        {"data": {"values": [{"s": "*"}]}, "layer": [
          {"mark": {"type": "rule", "strokeWidth": 1.4}, "encoding": {"x": {"datum": 3.75, "axis": null}, "x2": {"datum": 5.98}, "y": {"datum": 202}, "color": {"field": "s", "type": "nominal", "legend": null}}},
          {"mark": {"type": "text", "align": "left", "baseline": "middle", "fontSize": 13.5, "fontWeight": 500}, "encoding": {"x": {"datum": 6.16, "axis": null}, "y": {"datum": 202}, "text": {"field": "s"}}}]},
        {"data": {"values": [{"s": "HCOO*"}]}, "layer": [
          {"mark": {"type": "rule", "strokeWidth": 1.4}, "encoding": {"x": {"datum": 3.75, "axis": null}, "x2": {"datum": 5.98}, "y": {"datum": 183}, "color": {"field": "s", "type": "nominal", "legend": null}}},
          {"mark": {"type": "text", "align": "left", "baseline": "middle", "fontSize": 13.5, "fontWeight": 500}, "encoding": {"x": {"datum": 6.16, "axis": null}, "y": {"datum": 183}, "text": {"field": "s"}}}]},
        {"data": {"values": [{"s": "H*"}]}, "layer": [
          {"mark": {"type": "rule", "strokeWidth": 1.4}, "encoding": {"x": {"datum": 3.75, "axis": null}, "x2": {"datum": 5.98}, "y": {"datum": 164}, "color": {"field": "s", "type": "nominal", "legend": null}}},
          {"mark": {"type": "text", "align": "left", "baseline": "middle", "fontSize": 13.5, "fontWeight": 500}, "encoding": {"x": {"datum": 6.16, "axis": null}, "y": {"datum": 164}, "text": {"field": "s"}}}]}
      ]
    },
    {
      "width": 322, "height": 260,
      "layer": [
        {"data": {"name": "c"}, "mark": {"type": "line", "strokeWidth": 1.2, "clip": true},
         "encoding": {
           "x": {"field": "e", "type": "quantitative", "scale": {"domain": [-10, 10], "nice": false}, "axis": {"orient": "bottom", "values": [-10,-7.5,-5,-2.5,0,2.5,5,7.5,10], "labelExpr": "datum.value % 5 === 0 ? toString(datum.value) : ''", "labelFlush": false, "tickSize": -4, "labelPadding": 6, "title": "Energy / eV", "titlePadding": 11}},
           "y": {"field": "v", "type": "quantitative", "scale": {"domain": [-0.5, 3.5], "nice": false, "zero": false}, "axis": {"orient": "left", "values": [0, 1, 2, 3], "format": "d", "ticks": false, "labelPadding": 4, "title": "Density of states / a.u.", "titlePadding": 9, "titleY": 114}},
           "color": {"field": "s", "type": "nominal", "scale": {"domain": ["*", "HCOO*", "H*"], "range": ["#000000", "#e31a1c", "#1c1cdc"]}, "legend": null}}},
        {"data": {"values": [{}]}, "mark": {"type": "text", "text": "Pd(111) dz²", "align": "left", "baseline": "middle", "fontSize": 13.5, "fontWeight": 500},
         "encoding": {"x": {"datum": -8.28, "axis": {"orient": "top", "values": [-10,-7.5,-5,-2.5,0,2.5,5,7.5,10], "labels": false, "title": null, "tickSize": -4}}, "y": {"datum": 3.04}}},
        {"data": {"values": [{}]}, "mark": {"type": "text", "text": "(c)", "align": "center", "baseline": "middle", "fontSize": 24, "dx": -28, "dy": 9},
         "encoding": {"x": {"datum": -10, "axis": null}, "y": {"datum": 3.5}}},
        {"data": {"values": [{"s": "*"}]}, "layer": [
          {"mark": {"type": "rule", "strokeWidth": 1.8}, "encoding": {"x": {"datum": 2.8, "axis": null}, "x2": {"datum": 4.95}, "y": {"datum": 3.04}, "color": {"field": "s", "type": "nominal", "legend": null}}},
          {"mark": {"type": "text", "align": "left", "baseline": "middle", "fontSize": 13.5, "fontWeight": 500}, "encoding": {"x": {"datum": 5.14, "axis": null}, "y": {"datum": 3.04}, "text": {"field": "s"}}}]},
        {"data": {"values": [{"s": "HCOO*"}]}, "layer": [
          {"mark": {"type": "rule", "strokeWidth": 1.6}, "encoding": {"x": {"datum": 2.8, "axis": null}, "x2": {"datum": 4.95}, "y": {"datum": 2.73}, "color": {"field": "s", "type": "nominal", "legend": null}}},
          {"mark": {"type": "text", "align": "left", "baseline": "middle", "fontSize": 13.5, "fontWeight": 500}, "encoding": {"x": {"datum": 5.14, "axis": null}, "y": {"datum": 2.73}, "text": {"field": "s"}}}]},
        {"data": {"values": [{"s": "H*"}]}, "layer": [
          {"mark": {"type": "rule", "strokeWidth": 1.4}, "encoding": {"x": {"datum": 2.8, "axis": null}, "x2": {"datum": 4.95}, "y": {"datum": 2.44}, "color": {"field": "s", "type": "nominal", "legend": null}}},
          {"mark": {"type": "text", "align": "left", "baseline": "middle", "fontSize": 13.5, "fontWeight": 500}, "encoding": {"x": {"datum": 5.14, "axis": null}, "y": {"datum": 2.44}, "text": {"field": "s"}}}]}
      ]
    },
    {
      "width": 322, "height": 260,
      "layer": [
        {"data": {"name": "d"}, "mark": {"type": "line", "strokeWidth": 1.3, "clip": true},
         "encoding": {
           "x": {"field": "e", "type": "quantitative", "scale": {"domain": [-10, 10], "nice": false}, "axis": {"orient": "bottom", "values": [-10,-7.5,-5,-2.5,0,2.5,5,7.5,10], "labelExpr": "datum.value % 5 === 0 ? toString(datum.value) : ''", "labelFlush": false, "tickSize": -4, "labelPadding": 3, "title": "Energy / eV", "titlePadding": 7}},
           "y": {"field": "v", "type": "quantitative", "scale": {"domain": [-25, 235], "nice": false, "zero": false}, "axis": {"orient": "left", "labels": false, "ticks": false, "title": "Density of states / a.u.", "titlePadding": 19, "titleY": 116}},
           "color": {"field": "s", "type": "nominal", "scale": {"domain": ["*", "HCOO*", "H*"], "range": ["#000000", "#e31a1c", "#1c1cdc"]}, "legend": null}}},
        {"data": {"values": [{}]}, "mark": {"type": "text", "text": "Ag₂Se-Pd dx²-y²", "align": "left", "baseline": "middle", "fontSize": 13.5, "fontWeight": 500},
         "encoding": {"x": {"datum": -9.44, "axis": {"orient": "top", "values": [-10,-7.5,-5,-2.5,0,2.5,5,7.5,10], "labels": false, "title": null, "tickSize": -4}}, "y": {"datum": 194}}},
        {"data": {"values": [{}]}, "mark": {"type": "text", "text": "(d)", "align": "center", "baseline": "middle", "fontSize": 24, "dx": -25, "dy": 11},
         "encoding": {"x": {"datum": -10, "axis": null}, "y": {"datum": 235}}},
        {"data": {"values": [{"s": "*"}]}, "layer": [
          {"mark": {"type": "rule", "strokeWidth": 2.2}, "encoding": {"x": {"datum": 2.27, "axis": null}, "x2": {"datum": 4.58}, "y": {"datum": 205}, "color": {"field": "s", "type": "nominal", "legend": null}}},
          {"mark": {"type": "text", "align": "left", "baseline": "middle", "fontSize": 13.5, "fontWeight": 500}, "encoding": {"x": {"datum": 4.77, "axis": null}, "y": {"datum": 205}, "text": {"field": "s"}}}]},
        {"data": {"values": [{"s": "HCOO*"}]}, "layer": [
          {"mark": {"type": "rule", "strokeWidth": 1.6}, "encoding": {"x": {"datum": 2.27, "axis": null}, "x2": {"datum": 4.58}, "y": {"datum": 186}, "color": {"field": "s", "type": "nominal", "legend": null}}},
          {"mark": {"type": "text", "align": "left", "baseline": "middle", "fontSize": 13.5, "fontWeight": 500}, "encoding": {"x": {"datum": 4.77, "axis": null}, "y": {"datum": 186}, "text": {"field": "s"}}}]},
        {"data": {"values": [{"s": "H*"}]}, "layer": [
          {"mark": {"type": "rule", "strokeWidth": 1.4}, "encoding": {"x": {"datum": 2.27, "axis": null}, "x2": {"datum": 4.58}, "y": {"datum": 167}, "color": {"field": "s", "type": "nominal", "legend": null}}},
          {"mark": {"type": "text", "align": "left", "baseline": "middle", "fontSize": 13.5, "fontWeight": 500}, "encoding": {"x": {"datum": 4.77, "axis": null}, "y": {"datum": 167}, "text": {"field": "s"}}}]}
      ]
    },
    {
      "width": 322, "height": 260,
      "layer": [
        {"data": {"name": "e"}, "mark": {"type": "line", "strokeWidth": 1.3, "clip": true},
         "encoding": {
           "x": {"field": "e", "type": "quantitative", "scale": {"domain": [-10, 10], "nice": false}, "axis": {"orient": "bottom", "values": [-10,-7.5,-5,-2.5,0,2.5,5,7.5,10], "labelExpr": "datum.value % 5 === 0 ? toString(datum.value) : ''", "labelFlush": false, "tickSize": -4, "labelPadding": 3, "title": "Energy / eV", "titlePadding": 7}},
           "y": {"field": "v", "type": "quantitative", "scale": {"domain": [-41, 219], "nice": false, "zero": false}, "axis": {"orient": "left", "labels": false, "ticks": false, "title": "Density of states / a.u.", "titlePadding": 19, "titleY": 116}},
           "color": {"field": "s", "type": "nominal", "scale": {"domain": ["*", "HCOO*", "H*"], "range": ["#000000", "#e31a1c", "#1c1cdc"]}, "legend": null}}},
        {"data": {"values": [{}]}, "mark": {"type": "text", "text": "PdSe dx²-y²", "align": "left", "baseline": "middle", "fontSize": 13.5, "fontWeight": 500},
         "encoding": {"x": {"datum": -9.07, "axis": {"orient": "top", "values": [-10,-7.5,-5,-2.5,0,2.5,5,7.5,10], "labels": false, "title": null, "tickSize": -4}}, "y": {"datum": 183}}},
        {"data": {"values": [{}]}, "mark": {"type": "text", "text": "(e)", "align": "center", "baseline": "middle", "fontSize": 24, "dx": -21, "dy": 13},
         "encoding": {"x": {"datum": -10, "axis": null}, "y": {"datum": 219}}},
        {"data": {"values": [{"s": "*"}]}, "layer": [
          {"mark": {"type": "rule", "strokeWidth": 2}, "encoding": {"x": {"datum": 3.19, "axis": null}, "x2": {"datum": 5.36}, "y": {"datum": 198}, "color": {"field": "s", "type": "nominal", "legend": null}}},
          {"mark": {"type": "text", "align": "left", "baseline": "middle", "fontSize": 13.5, "fontWeight": 500}, "encoding": {"x": {"datum": 5.6, "axis": null}, "y": {"datum": 198}, "text": {"field": "s"}}}]},
        {"data": {"values": [{"s": "HCOO*"}]}, "layer": [
          {"mark": {"type": "rule", "strokeWidth": 1.6}, "encoding": {"x": {"datum": 3.19, "axis": null}, "x2": {"datum": 5.36}, "y": {"datum": 179}, "color": {"field": "s", "type": "nominal", "legend": null}}},
          {"mark": {"type": "text", "align": "left", "baseline": "middle", "fontSize": 13.5, "fontWeight": 500}, "encoding": {"x": {"datum": 5.6, "axis": null}, "y": {"datum": 179}, "text": {"field": "s"}}}]},
        {"data": {"values": [{"s": "H*"}]}, "layer": [
          {"mark": {"type": "rule", "strokeWidth": 1.4}, "encoding": {"x": {"datum": 3.19, "axis": null}, "x2": {"datum": 5.36}, "y": {"datum": 159}, "color": {"field": "s", "type": "nominal", "legend": null}}},
          {"mark": {"type": "text", "align": "left", "baseline": "middle", "fontSize": 13.5, "fontWeight": 500}, "encoding": {"x": {"datum": 5.6, "axis": null}, "y": {"datum": 159}, "text": {"field": "s"}}}]}
      ]
    },
    {
      "width": 322, "height": 260,
      "layer": [
        {"data": {"name": "f"}, "mark": {"type": "line", "strokeWidth": 1.2, "clip": true},
         "encoding": {
           "x": {"field": "e", "type": "quantitative", "scale": {"domain": [-10, 10], "nice": false}, "axis": {"orient": "bottom", "values": [-10,-7.5,-5,-2.5,0,2.5,5,7.5,10], "labelExpr": "datum.value % 5 === 0 ? toString(datum.value) : ''", "labelFlush": false, "tickSize": -4, "labelPadding": 3, "title": "Energy / eV", "titlePadding": 7}},
           "y": {"field": "v", "type": "quantitative", "scale": {"domain": [-26, 234], "nice": false, "zero": false}, "axis": {"orient": "left", "labels": false, "ticks": false, "title": "Density of states / a.u.", "titlePadding": 19, "titleY": 116}},
           "color": {"field": "s", "type": "nominal", "scale": {"domain": ["*", "HCOO*", "H*"], "range": ["#000000", "#e31a1c", "#1c1cdc"]}, "legend": null}}},
        {"data": {"values": [{}]}, "mark": {"type": "text", "text": "Pd(111) dx²-y²", "align": "left", "baseline": "middle", "fontSize": 13.5, "fontWeight": 500},
         "encoding": {"x": {"datum": -8.4, "axis": {"orient": "top", "values": [-10,-7.5,-5,-2.5,0,2.5,5,7.5,10], "labels": false, "title": null, "tickSize": -4}}, "y": {"datum": 192}}},
        {"data": {"values": [{}]}, "mark": {"type": "text", "text": "(f)", "align": "center", "baseline": "middle", "fontSize": 24, "dx": -25, "dy": 15},
         "encoding": {"x": {"datum": -10, "axis": null}, "y": {"datum": 234}}},
        {"data": {"values": [{"s": "*"}]}, "layer": [
          {"mark": {"type": "rule", "strokeWidth": 2.2}, "encoding": {"x": {"datum": 3.11, "axis": null}, "x2": {"datum": 5.38}, "y": {"datum": 203}, "color": {"field": "s", "type": "nominal", "legend": null}}},
          {"mark": {"type": "text", "align": "left", "baseline": "middle", "fontSize": 13.5, "fontWeight": 500}, "encoding": {"x": {"datum": 5.57, "axis": null}, "y": {"datum": 203}, "text": {"field": "s"}}}]},
        {"data": {"values": [{"s": "HCOO*"}]}, "layer": [
          {"mark": {"type": "rule", "strokeWidth": 1.8}, "encoding": {"x": {"datum": 3.11, "axis": null}, "x2": {"datum": 5.38}, "y": {"datum": 184}, "color": {"field": "s", "type": "nominal", "legend": null}}},
          {"mark": {"type": "text", "align": "left", "baseline": "middle", "fontSize": 13.5, "fontWeight": 500}, "encoding": {"x": {"datum": 5.57, "axis": null}, "y": {"datum": 184}, "text": {"field": "s"}}}]},
        {"data": {"values": [{"s": "H*"}]}, "layer": [
          {"mark": {"type": "rule", "strokeWidth": 1.2}, "encoding": {"x": {"datum": 3.11, "axis": null}, "x2": {"datum": 5.38}, "y": {"datum": 165}, "color": {"field": "s", "type": "nominal", "legend": null}}},
          {"mark": {"type": "text", "align": "left", "baseline": "middle", "fontSize": 13.5, "fontWeight": 500}, "encoding": {"x": {"datum": 5.57, "axis": null}, "y": {"datum": 165}, "text": {"field": "s"}}}]}
      ]
    }
  ],
  "config": {
    "font": "Noto Sans CJK JP",
    "view": {"stroke": "#3a3a3a", "strokeWidth": 1},
    "axis": {"domain": false, "grid": false, "tickColor": "#222222", "tickWidth": 1, "labelFont": "Noto Sans CJK JP", "labelFontSize": 14, "labelFontWeight": "bold", "labelColor": "#111111", "titleFont": "Noto Sans CJK JP", "titleFontSize": 14, "titleFontWeight": 500, "titleColor": "#111111"},
    "text": {"font": "Noto Sans CJK JP", "color": "#111111"}
  }
}
